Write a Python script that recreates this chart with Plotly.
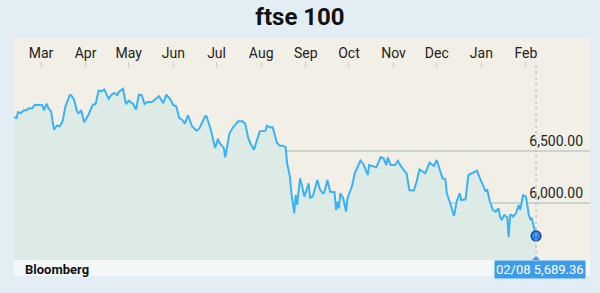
import plotly.graph_objects as go

dates = [
    "2015-02-10", "2015-02-12", "2015-02-13", "2015-02-15", "2015-02-17", "2015-02-19", "2015-02-20",
    "2015-02-23", "2015-02-25", "2015-02-28",
    "2015-03-02", "2015-03-03", "2015-03-05", "2015-03-06", "2015-03-08", "2015-03-10", "2015-03-12",
    "2015-03-14", "2015-03-16", "2015-03-18", "2015-03-21", "2015-03-22", "2015-03-24", "2015-03-26",
    "2015-03-27", "2015-03-29", "2015-03-31",
    "2015-04-03", "2015-04-06", "2015-04-08", "2015-04-10", "2015-04-12", "2015-04-14", "2015-04-17",
    "2015-04-19", "2015-04-21", "2015-04-23", "2015-04-24", "2015-04-27", "2015-04-29",
    "2015-05-01", "2015-05-04", "2015-05-06", "2015-05-08", "2015-05-10", "2015-05-12", "2015-05-14",
    "2015-05-17", "2015-05-22", "2015-05-25", "2015-05-27", "2015-05-30",
    "2015-06-01", "2015-06-03", "2015-06-05", "2015-06-07", "2015-06-09", "2015-06-11", "2015-06-14",
    "2015-06-17", "2015-06-19", "2015-06-23", "2015-06-24", "2015-06-27", "2015-06-30",
    "2015-07-02", "2015-07-03", "2015-07-06", "2015-07-07", "2015-07-10", "2015-07-13", "2015-07-16",
    "2015-07-19", "2015-07-21", "2015-07-23", "2015-07-25", "2015-07-27", "2015-07-31",
    "2015-08-04", "2015-08-05", "2015-08-07", "2015-08-09", "2015-08-12", "2015-08-14", "2015-08-16",
    "2015-08-18", "2015-08-19", "2015-08-21", "2015-08-22", "2015-08-24", "2015-08-25", "2015-08-26",
    "2015-08-28", "2015-08-29", "2015-08-31",
    "2015-09-03", "2015-09-04", "2015-09-06", "2015-09-09", "2015-09-11", "2015-09-13", "2015-09-14",
    "2015-09-16", "2015-09-18", "2015-09-21", "2015-09-22", "2015-09-23", "2015-09-24", "2015-09-25",
    "2015-09-27", "2015-09-29", "2015-09-30",
    "2015-10-03", "2015-10-05", "2015-10-06", "2015-10-09", "2015-10-11", "2015-10-14", "2015-10-15",
    "2015-10-18", "2015-10-20", "2015-10-23", "2015-10-25", "2015-10-27", "2015-10-28", "2015-10-30",
    "2015-11-02", "2015-11-04", "2015-11-06", "2015-11-09", "2015-11-10", "2015-11-12", "2015-11-15",
    "2015-11-17", "2015-11-19", "2015-11-23", "2015-11-26", "2015-11-28", "2015-11-29",
    "2015-12-01", "2015-12-03", "2015-12-05", "2015-12-07", "2015-12-08", "2015-12-10", "2015-12-13",
    "2015-12-15", "2015-12-17", "2015-12-18", "2015-12-21", "2015-12-23", "2015-12-29", "2015-12-31",
    "2016-01-02", "2016-01-04", "2016-01-05", "2016-01-07", "2016-01-09", "2016-01-11", "2016-01-13",
    "2016-01-14", "2016-01-15", "2016-01-17", "2016-01-19", "2016-01-20", "2016-01-21", "2016-01-22",
    "2016-01-23", "2016-01-25", "2016-01-27", "2016-01-28", "2016-01-30",
    "2016-02-01", "2016-02-03", "2016-02-04", "2016-02-05", "2016-02-08",
]

values = [
    6818, 6811, 6865, 6858, 6884, 6884, 6899,
    6906, 6937, 6937,
    6932, 6884, 6947, 6906, 6874, 6700, 6738,
    6732, 6779, 6922, 7027, 7027, 6985, 6874,
    6858, 6880, 6770,
    6842, 6937, 6944, 7070, 7065, 7080, 6994,
    7032, 7049, 7027, 7058, 7089, 6944,
    6975, 6944, 6890, 7032, 7027, 6944, 6963,
    6963, 7017, 6952, 7032, 6985,
    6932, 6922, 6811, 6795, 6757, 6837, 6732,
    6690, 6709, 6827, 6827, 6700, 6526,
    6614, 6573, 6526, 6437, 6668, 6732, 6779,
    6779, 6754, 6621, 6557, 6510, 6684,
    6690, 6738, 6722, 6722, 6573, 6548, 6548,
    6532, 6380, 6253, 6095, 5905, 6079, 5984,
    6238, 6190, 6063,
    6190, 6048, 6069, 6221, 6126, 6095, 6110,
    6221, 6110, 6105, 5936, 6015, 5952, 6095,
    6048, 5920, 6048,
    6158, 6285, 6317, 6405, 6374, 6269, 6364,
    6355, 6342, 6437, 6428, 6364, 6437, 6364,
    6364, 6405, 6355, 6300, 6285, 6126, 6120,
    6205, 6323, 6285, 6386, 6364, 6355,
    6412, 6323, 6238, 6228, 6095, 6015, 5879,
    6025, 6095, 6031, 6038, 6269, 6310, 6238,
    6174, 6110, 6133, 6015, 5936, 5920, 5952,
    5873, 5841, 5889, 5867, 5677, 5889, 5889,
    5873, 5905, 5984, 5936, 6079,
    6063, 5889, 5848, 5857, 5689.36,
]

month_ticks = ["2015-03-01", "2015-04-01", "2015-05-01", "2015-06-01", "2015-07-01", "2015-08-01",
               "2015-09-01", "2015-10-01", "2015-11-01", "2015-12-01", "2016-01-01", "2016-02-01"]
month_labels = ["Mar", "Apr", "May", "Jun", "Jul", "Aug", "Sep", "Oct", "Nov", "Dec", "Jan", "Feb"]

y_ticks = [6000, 6500]
y_labels = ["6,000.00", "6,500.00"]

title_text = "ftse 100"
source_text = "Bloomberg"
last_label = "02/08 5,689.36"

FONT = "Liberation Sans Narrow, Arial Narrow, Roboto, sans-serif"

fig = go.Figure()
fig.add_trace(go.Scatter(
    x=dates, y=values, mode="lines",
    line=dict(color="#3cb2f4", width=2),
    fill="tozeroy", fillcolor="#dcebe6",
    hoverinfo="skip",
))
fig.add_trace(go.Scatter(
    x=[dates[-1]], y=[values[-1]], mode="markers",
    marker=dict(size=10, color="#2f83ea", line=dict(color="#1b3f80", width=1.2)),
    hoverinfo="skip",
))

fig.update_layout(
    width=600, height=293,
    margin=dict(l=14, r=10, t=62, b=33),
    paper_bgcolor="#e3eef4",
    plot_bgcolor="#f2f0e6",
    showlegend=False,
    title=dict(text="<b>" + title_text + "</b>", x=0.5, xref="container", xanchor="center",
               y=0.945, yref="container", yanchor="middle",
               font=dict(family=FONT, size=24, color="#111")),
    font=dict(family=FONT, color="#222"),
    xaxis=dict(
        type="date", side="top",
        range=["2015-02-10 05:45", "2016-03-16 12:00"],
        tickvals=month_ticks, ticktext=month_labels,
        ticks="inside", ticklen=6, tickcolor="#cfcdc4", tickwidth=1,
        showgrid=False, zeroline=False, showline=False,
        tickfont=dict(family=FONT, size=14, color="#222"),
    ),
    yaxis=dict(
        range=[5461, 7343], side="right",
        tickvals=y_ticks, ticktext=y_labels,
        ticklabelposition="inside top", ticklabelstandoff=4,
        showgrid=True, gridcolor="rgba(160,185,180,0.5)", gridwidth=1.5,
        zeroline=False, showline=False, ticks="",
        tickfont=dict(family=FONT, size=14, color="#222"),
    ),
    shapes=[
        dict(type="rect", xref="paper", yref="paper", x0=0, x1=1, y0=1, y1=1 + 25 / 198,
             fillcolor="#f2f0e6", line=dict(width=0), layer="below"),
        dict(type="rect", xref="paper", yref="paper", x0=0, x1=1, y0=-16 / 198, y1=0,
             fillcolor="#f4f7f7", line=dict(width=0), layer="below"),
        dict(type="line", xref="x", yref="paper", x0=dates[-1], x1=dates[-1], y0=0, y1=1,
             line=dict(color="#a9b9d9", width=1, dash="dot"), layer="above"),
        dict(type="path", xref="x", yref="paper", xsizemode="pixel", ysizemode="pixel",
             xanchor=dates[-1], yanchor=0, path="M -4 0 L 4 0 L 0 4 Z",
             fillcolor="#3d9bec", line=dict(width=0)),
    ],
    annotations=[
        dict(text="<b>" + source_text + "</b>", xref="paper", yref="paper", x=9 / 576, y=0,
             xanchor="left", yanchor="top", showarrow=False,
             font=dict(family=FONT, size=13, color="#111")),
        dict(text=last_label, xref="x", yref="paper", x=dates[-1], y=0, xshift=4,
             xanchor="center", yanchor="top", showarrow=False,
             bgcolor="#3d9bec", borderpad=1,
             font=dict(family=FONT, size=13, color="#ffffff")),
    ],
)

fig.write_html("out.html")
